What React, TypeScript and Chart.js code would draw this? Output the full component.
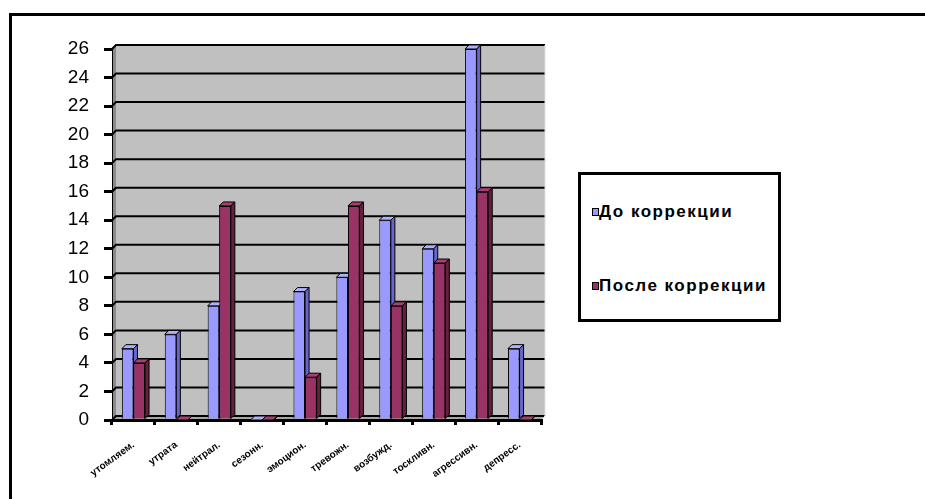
import React, { useEffect, useRef } from "react";
import { Chart, registerables } from "chart.js";

Chart.register(...registerables);

const categories = [
  "утомляем.",
  "утрата",
  "нейтрал.",
  "сезонн.",
  "эмоцион.",
  "тревожн.",
  "возбужд.",
  "тоскливн.",
  "агрессивн.",
  "депресс.",
];
const seriesNames = ["До коррекции", "После коррекции"];
const beforeValues = [5, 6, 8, 0, 9, 10, 14, 12, 26, 5];
const afterValues = [4, 0, 15, 0, 3, 15, 8, 11, 16, 0];
const yMin = 0;
const yMax = 26;
const yStep = 2;

const FRONT = ["#9999FF", "#993366"];
const SIDE = ["#6666CC", "#66203F"];
const TOP = ["#B0B0FF", "#A8406F"];
const DX = 4;
const DY = -4;

const wallPlugin = {
  id: "wall3d",
  beforeDraw(chart: any) {
    const { ctx, chartArea } = chart;
    const { left, right, top, bottom } = chartArea;
    ctx.save();
    ctx.fillStyle = "#C0C0C0";
    ctx.fillRect(left + DX, top + DY, right - left, bottom - top);
    ctx.fillStyle = "#8A8A8A";
    ctx.beginPath();
    ctx.moveTo(left, top);
    ctx.lineTo(left + DX, top + DY);
    ctx.lineTo(left + DX, bottom + DY);
    ctx.lineTo(left, bottom);
    ctx.closePath();
    ctx.fill();
    ctx.fillStyle = "#A6A6A6";
    ctx.beginPath();
    ctx.moveTo(left, bottom);
    ctx.lineTo(left + DX, bottom + DY);
    ctx.lineTo(right + DX, bottom + DY);
    ctx.lineTo(right, bottom);
    ctx.closePath();
    ctx.fill();
    const ys = chart.scales.y;
    ctx.strokeStyle = "#000";
    ctx.lineWidth = 2;
    ys.ticks.forEach((t: any) => {
      const y = ys.getPixelForValue(t.value);
      ctx.beginPath();
      ctx.moveTo(left, y);
      ctx.lineTo(left + DX, y + DY);
      ctx.lineTo(right + DX, y + DY);
      ctx.stroke();
    });
    ctx.strokeStyle = "#E0E0E0";
    ctx.lineWidth = 1;
    ctx.beginPath();
    ctx.moveTo(right + DX, top + DY);
    ctx.lineTo(right + DX, bottom + DY);
    ctx.lineTo(right, bottom);
    ctx.stroke();
    ctx.restore();
  },
};

const poly = (ctx: any, pts: number[][], fill: string) => {
  ctx.beginPath();
  ctx.moveTo(pts[0][0], pts[0][1]);
  for (let i = 1; i < pts.length; i++) ctx.lineTo(pts[i][0], pts[i][1]);
  ctx.closePath();
  ctx.fillStyle = fill;
  ctx.fill();
  ctx.stroke();
};

const barPlugin = {
  id: "bar3d",
  afterDatasetsDraw(chart: any) {
    const { ctx } = chart;
    const metas = [chart.getDatasetMeta(0), chart.getDatasetMeta(1)];
    ctx.save();
    ctx.strokeStyle = "#000";
    ctx.lineWidth = 1;
    ctx.lineJoin = "round";
    for (let i = 0; i < categories.length; i++) {
      for (let d = 0; d < 2; d++) {
        const el = metas[d].data[i];
        if (!el) continue;
        const { x, y, base, width } = el.getProps(["x", "y", "base", "width"], true);
        const l = x - width / 2;
        const r = x + width / 2;
        if (d === 1) {
          el.draw(ctx);
          ctx.strokeStyle = "#000";
          ctx.lineWidth = 1;
        }
        poly(ctx, [[l, y], [l + DX, y + DY], [r + DX, y + DY], [r, y]], TOP[d]);
        poly(ctx, [[r, y], [r + DX, y + DY], [r + DX, base + DY], [r, base]], SIDE[d]);
      }
    }
    ctx.restore();
  },
};

export default function App() {
  const ref = useRef<HTMLCanvasElement | null>(null);
  useEffect(() => {
    if (!ref.current) return;
    const chart = new Chart(ref.current, {
      type: "bar",
      data: {
        labels: categories,
        datasets: [
          {
            label: seriesNames[0],
            data: beforeValues,
            backgroundColor: FRONT[0],
            borderColor: "#000",
            borderWidth: 1,
            categoryPercentage: 0.54,
            barPercentage: 1,
          },
          {
            label: seriesNames[1],
            data: afterValues,
            backgroundColor: FRONT[1],
            borderColor: "#000",
            borderWidth: 1,
            categoryPercentage: 0.54,
            barPercentage: 1,
          },
        ],
      },
      options: {
        responsive: false,
        animation: false,
        layout: { padding: { top: 49, right: 384, bottom: 0, left: 0 } },
        plugins: { legend: { display: false }, tooltip: { enabled: false } },
        scales: {
          x: {
            grid: {
              drawOnChartArea: false,
              drawTicks: true,
              tickLength: 5,
              color: "#000",
              lineWidth: 3,
              offset: true,
            },
            border: { color: "#000", width: 3 },
            ticks: {
              color: "#000",
              font: { family: "Arial, 'Liberation Sans'", size: 10, weight: "bold" },
              minRotation: 36,
              maxRotation: 36,
              autoSkip: false,
              padding: 14,
            },
            afterFit(scale: any) {
              scale.height = 79;
            },
          },
          y: {
            min: yMin,
            max: yMax,
            grid: {
              drawOnChartArea: false,
              drawTicks: true,
              tickLength: 8,
              color: "#000",
              lineWidth: 3,
            },
            border: { color: "#000", width: 1 },
            ticks: {
              stepSize: yStep,
              color: "#000",
              font: { family: "Arial, 'Liberation Sans'", size: 19 },
              padding: 15,
            },
            afterFit(scale: any) {
              scale.width = 112;
            },
          },
        },
      },
      plugins: [wallPlugin, barPlugin],
    } as any);
    return () => chart.destroy();
  }, []);

  const legendText: React.CSSProperties = {
    fontFamily: "Arial, 'Liberation Sans', sans-serif",
    fontWeight: "bold",
    fontSize: 17,
    letterSpacing: 1.5,
    color: "#000",
    position: "absolute",
    left: 18,
    whiteSpace: "nowrap",
    lineHeight: "20px",
  };
  const marker = (c: string, top: number): React.CSSProperties => ({
    position: "absolute",
    left: 11,
    top,
    width: 5,
    height: 6,
    background: c,
    border: "1px solid #000",
  });

  return (
    <div style={{ position: "absolute", left: 0, top: 0, width: 925, height: 499, overflow: "hidden", background: "#fff" }}>
      <div
        style={{
          position: "absolute",
          left: 9,
          top: 13,
          width: 930,
          height: 500,
          borderTop: "3px solid #000",
          borderLeft: "3px solid #000",
        }}
      />
      <canvas ref={ref} width={925} height={499} style={{ position: "absolute", left: 0, top: 0 }} />
      <div
        style={{
          position: "absolute",
          left: 578,
          top: 172,
          width: 197,
          height: 144,
          border: "3px solid #000",
          background: "#fff",
        }}
      >
        <div style={marker(FRONT[0], 33)} />
        <div style={{ ...legendText, top: 27 }}>{seriesNames[0]}</div>
        <div style={marker(FRONT[1], 107)} />
        <div style={{ ...legendText, top: 101 }}>{seriesNames[1]}</div>
      </div>
    </div>
  );
}
